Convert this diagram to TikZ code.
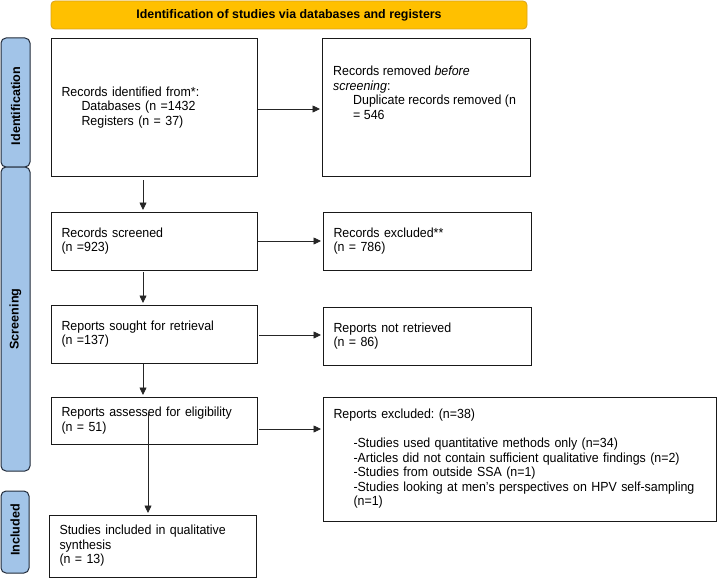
\documentclass[tikz,border=0pt]{standalone}
\usepackage{fontspec}
\setmainfont{Liberation Sans}
\newfontfamily\bodyfont[FakeStretch=0.94]{Liberation Sans}
\usetikzlibrary{arrows.meta,calc}
\definecolor{bannerfill}{HTML}{FFC000}
\definecolor{bannerdraw}{HTML}{D9A21B}
\definecolor{barfill}{HTML}{A2C4E8}
\definecolor{bardraw}{HTML}{222B3A}
\frenchspacing
\begin{document}
\begin{tikzpicture}[x=1pt,y=-1pt,
  box/.style={draw=black!90, line width=1pt, rectangle, align=left, inner xsep=10.5pt, inner ysep=0pt,
    font=\bodyfont\fontsize{13.2}{14.5}\selectfont},
  txt/.style={align=left, inner sep=0pt, font=\bodyfont\fontsize{13.2}{14.5}\selectfont},
  bar/.style={draw=bardraw, fill=barfill, line width=1pt, rounded corners=5pt},
  barlabel/.style={rotate=90, font=\fontsize{12.6}{14}\selectfont\bfseries},
  arr/.style={draw=black!85, line width=0.75pt, -{Triangle[length=7.5pt,width=7pt]}, shorten >=1.5pt}]
\useasboundingbox (0,0) rectangle (717,578);

% banner
\node[draw=bannerdraw, fill=bannerfill, line width=0.8pt, rounded corners=4pt,
  minimum width=476pt, minimum height=28pt, inner sep=0pt,
  font=\fontsize{12.4}{14}\selectfont\bfseries] (banner) at (289,15) {Identification of studies via databases and registers};

% side bars
\path[bar] (1,38) rectangle (30,167);
\node[barlabel] (lid) at (15.5,106) {Identification};
\path[bar] (1,167) rectangle (30,471);
\node[barlabel] (lsc) at (15.5,319) {Screening};
\path[bar] (1,491) rectangle (29,573);
\node[barlabel] (lin) at (15,530) {Included};

% boxes
\node[box, minimum width=206pt, minimum height=137pt, text width=185pt] (b1) at (154,107.5)
  {Records identified from*:\\\hspace*{20pt}Databases (n =1432\\\hspace*{20pt}Registers (n = 37)};
\node[box, minimum width=208pt, minimum height=137pt] (rem) at (426,107.5) {};
\node[txt, anchor=north west] (remt) at (333,66)
  {Records removed \textit{before}\\\textit{screening}:\\\hspace*{20pt}Duplicate records removed (n\\\hspace*{20pt}= 546};

\node[box, minimum width=206pt, minimum height=58pt, text width=185pt] (scr) at (154,241)
  {Records screened\\(n =923)};
\node[box, minimum width=208pt, minimum height=58pt, text width=187pt] (exc) at (427,241)
  {Records excluded**\\(n = 786)};

\node[box, minimum width=206pt, minimum height=58pt, text width=185pt] (sou) at (154,334)
  {Reports sought for retrieval\\(n =137)};
\node[box, minimum width=208pt, minimum height=58pt, text width=187pt] (nret) at (427,336)
  {Reports not retrieved\\(n = 86)};

\node[box, minimum width=206pt, minimum height=47pt, text width=185pt] (ass) at (154,420.5)
  {Reports assessed for eligibility\\(n = 51)};
\node[box, minimum width=393pt, minimum height=124pt, text width=372pt] (rex) at (519.5,459)
  {Reports excluded: (n=38)\\[14.5pt]
   \hspace*{20pt}-Studies used quantitative methods only (n=34)\\
   \hspace*{20pt}-Articles did not contain sufficient qualitative findings (n=2)\\
   \hspace*{20pt}-Studies from outside SSA (n=1)\\
   \hspace*{20pt}-Studies looking at men’s perspectives on HPV self-sampling\\
   \hspace*{20pt}(n=1)};

\node[box, minimum width=207pt, minimum height=62pt, text width=186pt] (inc) at (152.5,546)
  {Studies included in qualitative\\synthesis\\(n = 13)\\[8pt]};

% connectors
\draw[arr] (b1.east |- 0,109) -- (rem.west |- 0,109);
\coordinate (v1) at (143,180);
\draw[arr] (v1) -- (v1 |- scr.north);
\draw[arr] (scr.east) -- (exc.west |- scr.east);
\coordinate (v2) at (143,272);
\draw[arr] (v2) -- (v2 |- sou.north);
\coordinate (h3) at (259,335);
\draw[arr] (h3) -- (h3 -| nret.west);
\coordinate (v3) at (143,364);
\draw[arr] (v3) -- (v3 |- ass.north);
\coordinate (h4) at (259,429);
\draw[arr] (h4) -- (h4 -| rex.west);
\coordinate (v4) at (148,412);
\draw[arr] (v4) -- (v4 |- inc.north);
\end{tikzpicture}
\end{document}
